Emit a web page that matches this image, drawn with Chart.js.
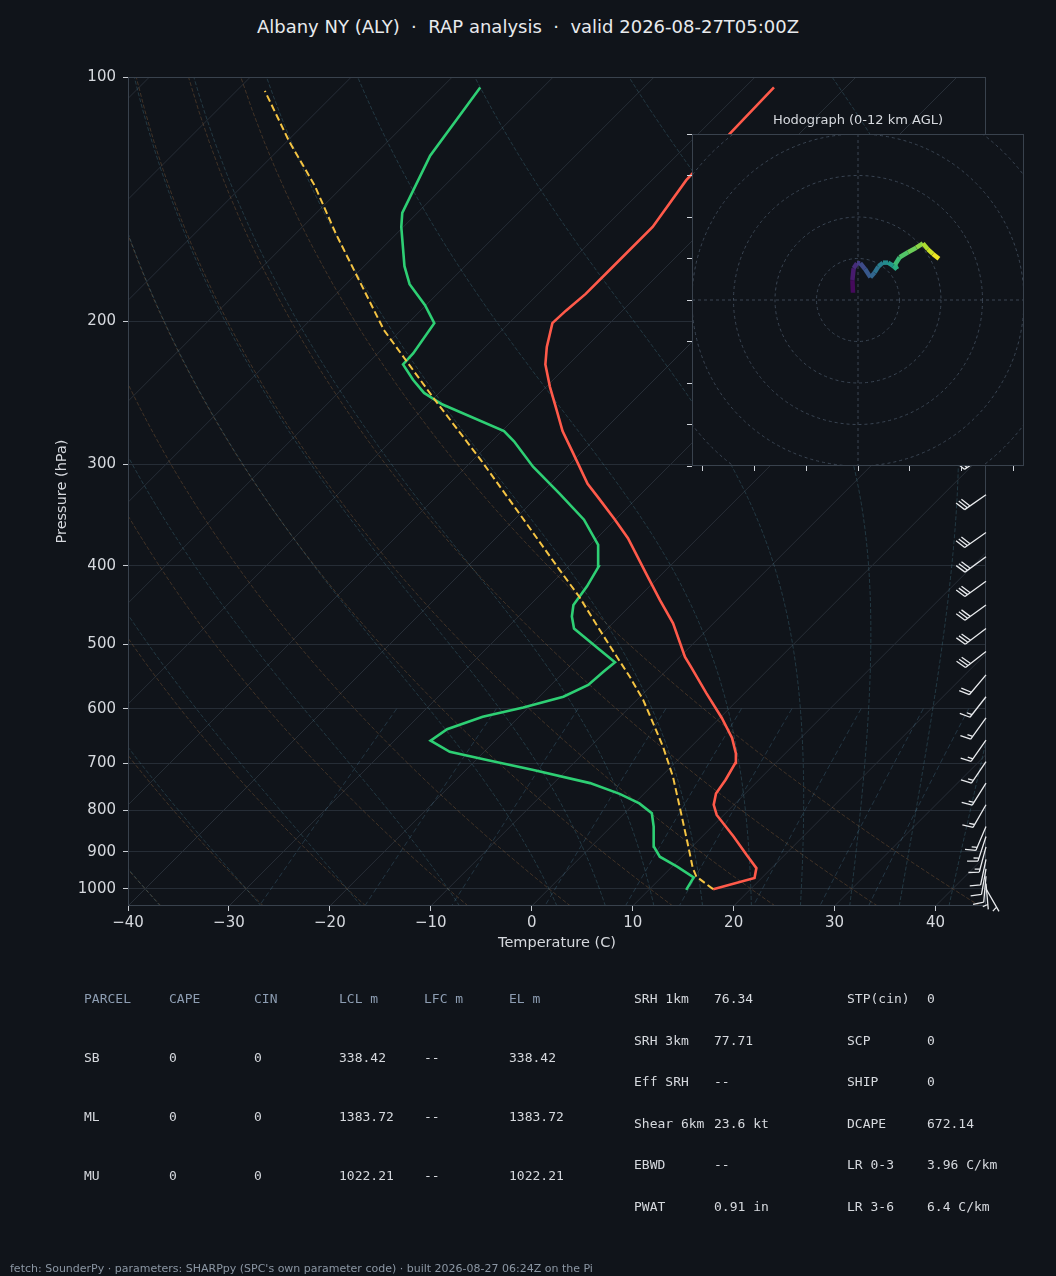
<!DOCTYPE html>
<html><head><meta charset="utf-8">
<script src="https://cdn.jsdelivr.net/npm/chart.js@4.4.1/dist/chart.umd.min.js"></script>
<style>
html,body{margin:0;padding:0;background:#10141a;}
body{width:1056px;height:1276px;position:relative;overflow:hidden;font-family:"DejaVu Sans",sans-serif;}
.abs{position:absolute;white-space:pre;}
#title{left:0;width:1056px;top:16px;text-align:center;font-size:18px;line-height:22px;color:#e8eaed;}
#hodoTitle{left:680px;width:356px;top:112px;text-align:center;font-size:13px;line-height:16px;color:#d6d9de;}
.mono{font-family:"DejaVu Sans Mono",monospace;font-size:13px;line-height:16px;}
#footer{left:10px;top:1262px;font-size:11px;line-height:14px;color:#8b96a3;}
#tables{position:absolute;left:0;top:0;width:1056px;height:1276px;will-change:transform;}
</style></head><body>
<div id="title" class="abs">Albany NY (ALY)  ·  RAP analysis  ·  valid 2026-08-27T05:00Z</div>
<canvas id="skewt" width="1056" height="960" style="position:absolute;left:0;top:0;width:1056px;height:960px;"></canvas>
<div id="hodoTitle" class="abs">Hodograph (0-12 km AGL)</div>
<canvas id="hodo" width="356" height="350" style="position:absolute;left:680px;top:128px;width:356px;height:350px;"></canvas>
<div id="tables"></div>
<div id="footer" class="abs">fetch: SounderPy · parameters: SHARPpy (SPC's own parameter code) · built 2026-08-27 06:24Z on the Pi</div>
<script>
// ---------------- data ----------------
const xTicks = [-40,-30,-20,-10,0,10,20,30,40];
const pTicks = [100,200,300,400,500,600,700,800,900,1000];

const tempPres = [1001,970,943,908,862,811,788,763,734,700,681,652,616,574,532,518,471,441,409,370,350,329,317,291,273,257,241,226,215,201,194,185,173,153,134,117,103];
const tempC = [16.3,19.3,18.5,16.2,13.1,9.3,8.0,7.1,6.7,6.0,5.1,3.2,0.2,-3.8,-8.0,-9.5,-14.0,-17.6,-21.6,-26.9,-30.2,-34.0,-36.3,-40.7,-44.0,-46.7,-49.6,-52.3,-53.9,-55.7,-55.6,-55.3,-55.3,-55.3,-56.6,-56.9,-57.1];

const dewpPres = [1003,968,939,913,887,838,807,785,764,741,714,694,678,657,636,614,598,580,561,540,526,508,478,462,447,424,401,377,351,326,302,281,273,253,245,236,226,219,201,191,180,171,153,147,125,103];
const dewpC = [13.7,13.2,10.5,7.8,6.2,4.2,2.7,0.5,-2.4,-6.4,-13.3,-18.9,-23.4,-26.4,-25.9,-23.6,-20.5,-17.6,-16.3,-16.1,-15.9,-18.6,-23.3,-24.7,-25.7,-26.2,-27.0,-29.2,-33.1,-38.1,-43.4,-47.8,-49.8,-58.6,-61.5,-63.9,-66.4,-66.5,-67.4,-70.1,-73.7,-76.0,-80.2,-81.5,-84.4,-86.2];

const parcelPres = [1001,966,943,870,792,728,668,625,585,548,513,480,437,405,345,296,248,205,156,136,120,104];
const parcelC = [16.3,13.4,12.2,8.8,4.8,1.2,-2.8,-6.1,-9.4,-13.0,-16.8,-20.6,-25.9,-30.5,-40.1,-49.3,-60.2,-71.7,-86.0,-92.9,-99.8,-107.2];

const windPres = [1000,985,965,945,920,888,862,838,788,741,697,656,616,580,545,510,478,447,418,390,364,327,292,260,230,200,175,150,125];
const windDir  = [150,175,185,190,192,195,198,203,210,212,214,215,216,218,220,232,233,234,234,234,235,235,236,238,240,242,245,245,250];
const windKt   = [5,5,10,10,10,15,15,15,15,15,15,15,15,15,20,30,30,30,30,30,30,30,35,35,40,40,40,40,40];

const hodoU = [-2.4,-2.7,-2.1,-0.5,1.1,3.4,6.0,8.0,9.8,12.0,14.5,16.9,18.8,17.8,20.1,24.1,28.1,31.3,33.7,36.1,39.0];
const hodoV = [3.5,9.6,15.3,17.7,17.7,14.9,10.9,13.2,16.1,18.0,18.0,16.5,14.8,16.9,20.6,23.0,25.2,27.3,24.4,22.2,19.9];
const hodoXTicks = [-75,-50,-25,0,25,50,75];
const hodoYTicks = [-80,-60,-40,-20,0,20,40,60,80];
const hodoRings = [20,40,60,80,100];

const parcelHeader = ['PARCEL','CAPE','CIN','LCL m','LFC m','EL m'];
const parcelRows = [
  ['SB','0','0','338.42','--','338.42'],
  ['ML','0','0','1383.72','--','1383.72'],
  ['MU','0','0','1022.21','--','1022.21']
];
const paramLabelsA = ['SRH 1km','SRH 3km','Eff SRH','Shear 6km','EBWD','PWAT'];
const paramValuesA = ['76.34','77.71','--','23.6 kt','--','0.91 in'];
const paramLabelsB = ['STP(cin)','SCP','SHIP','DCAPE','LR 0-3','LR 3-6'];
const paramValuesB = ['0','0','0','672.14','3.96 C/km','6.4 C/km'];

// reference line families (MetPy defaults)
const isothermT = []; for (let t = -120; t <= 40; t += 10) isothermT.push(t);
const dryT0 = [-40,-30,-20,-10,0,10,20,30,40];
const moistT0 = [-40,-30,-20,-10,0,5,10,15,20,25,30,35,40,45];
const mixRatios = [0.0004,0.001,0.002,0.004,0.007,0.01,0.016,0.024,0.032];

// ---------------- helpers ----------------
const P_BOT = 1050, P_TOP = 100, T_MIN = -40, T_MAX = 45;
const AREA_W = 858, AREA_H = 829;
const SKEW = (AREA_H / Math.log(P_BOT / P_TOP)) / (AREA_W / (T_MAX - T_MIN));
function skewX(t, p) { return t + SKEW * Math.log(P_BOT / p); }
function fmtMinus(v) { return v < 0 ? '\u2212' + Math.abs(v) : String(v); }

const EPS = 0.6219569, RD = 287.04749, LV = 2.50084e6, CPD = 1004.666;
function satMix(p, tK) { const es = 6.112 * Math.exp(17.67 * (tK - 273.15) / (tK - 29.65)); return EPS * es / (p - es); }
function dTdp(p, tK) { const rs = satMix(p, tK); return ((RD * tK + LV * rs) / (CPD + LV * LV * rs * EPS / (RD * tK * tK))) / p; }
function integrateMoist(t0, pEnd, h) {
  let p = 1000, T = t0 + 273.15; const out = [[p, T - 273.15]];
  while ((h < 0 && p > pEnd) || (h > 0 && p < pEnd)) {
    const k1 = dTdp(p, T), k2 = dTdp(p + h / 2, T + h / 2 * k1), k3 = dTdp(p + h / 2, T + h / 2 * k2), k4 = dTdp(p + h, T + h * k3);
    T += h / 6 * (k1 + 2 * k2 + 2 * k3 + k4); p += h; out.push([p, T - 273.15]);
  }
  return out;
}
function moistProfile(t0) { const up = integrateMoist(t0, P_TOP, -5); const down = integrateMoist(t0, P_BOT, 5); return down.reverse().concat(up.slice(1)); }

const VIR = ['#440154','#482475','#414487','#355f8d','#2a788e','#21918c','#22a884','#44bf70','#7ad151','#bddf26','#fde725'];
function hex2rgb(h) { return [parseInt(h.slice(1,3),16), parseInt(h.slice(3,5),16), parseInt(h.slice(5,7),16)]; }
function viridis(f) {
  f = Math.max(0, Math.min(1, f)); const s = f * 10, i = Math.min(9, Math.floor(s)), t = s - i;
  const a = hex2rgb(VIR[i]), b = hex2rgb(VIR[i + 1]);
  return 'rgb(' + a.map((c, k) => Math.round(c + (b[k] - c) * t)).join(',') + ')';
}

Chart.defaults.font.family = "'DejaVu Sans', sans-serif";
Chart.defaults.color = '#d6d9de';

// ---------------- skew-T ----------------
function pathLine(ctx, xs, ys, pts) {
  ctx.beginPath();
  pts.forEach((q, i) => { const px = xs.getPixelForValue(skewX(q[1], q[0])), py = ys.getPixelForValue(q[0]); if (i) ctx.lineTo(px, py); else ctx.moveTo(px, py); });
  ctx.stroke();
}
const skewRef = {
  id: 'skewRef',
  beforeDatasetsDraw(chart) {
    const { ctx, chartArea: a, scales: { x, y } } = chart;
    ctx.save();
    ctx.beginPath(); ctx.rect(a.left, a.top, a.right - a.left, a.bottom - a.top); ctx.clip();
    ctx.strokeStyle = '#272e37'; ctx.lineWidth = 1; ctx.setLineDash([]);
    isothermT.forEach(t => pathLine(ctx, x, y, [[P_BOT, t], [P_TOP, t]]));
    ctx.strokeStyle = 'rgba(160,112,64,0.38)'; ctx.lineWidth = 0.9; ctx.setLineDash([4, 2]);
    dryT0.forEach(t0 => {
      const pts = []; for (let p = P_BOT; p >= P_TOP - 0.01; p -= 10) pts.push([p, (t0 + 273.15) * Math.pow(p / 1000, RD / CPD) - 273.15]);
      pathLine(ctx, x, y, pts);
    });
    ctx.strokeStyle = 'rgba(78,140,160,0.34)'; ctx.setLineDash([4, 2]);
    moistT0.forEach(t0 => pathLine(ctx, x, y, moistProfile(t0)));
    ctx.strokeStyle = 'rgba(78,130,160,0.34)'; ctx.setLineDash([5, 3]);
    mixRatios.forEach(w => {
      const pts = []; for (let p = 600; p <= P_BOT + 0.01; p += 50) { const e = p * w / (EPS + w); const l = Math.log(e / 6.112); pts.push([p, 243.5 * l / (17.67 - l)]); }
      pathLine(ctx, x, y, pts);
    });
    ctx.restore();
  },
  afterDatasetsDraw(chart) {
    const { ctx, chartArea: a, scales: { y } } = chart;
    ctx.save();
    ctx.strokeStyle = '#39424d'; ctx.lineWidth = 1; ctx.setLineDash([]);
    ctx.strokeRect(a.left + 0.5, a.top + 0.5, a.right - a.left - 1, a.bottom - a.top - 1);
    const L = 26;
    ctx.strokeStyle = '#e8eaed'; ctx.lineWidth = 1.3; ctx.lineCap = 'butt';
    windPres.forEach((p, i) => {
      const bx = a.right, by = y.getPixelForValue(p);
      const ang = windDir[i] * Math.PI / 180;
      const sx = Math.sin(ang), sy = -Math.cos(ang);
      const rx = Math.cos(ang), ry = Math.sin(ang);
      let spd = Math.round(windKt[i] / 5) * 5;
      const nflag = Math.floor(spd / 50); spd -= nflag * 50;
      const nfull = Math.floor(spd / 10); const half = (spd % 10) >= 5;
      ctx.beginPath();
      ctx.moveTo(bx, by); ctx.lineTo(bx + sx * L, by + sy * L);
      let off = L; const H = 0.4 * L, SP = 0.125 * L;
      for (let k = 0; k < nflag; k++) {
        ctx.moveTo(bx + sx * off, by + sy * off);
        ctx.lineTo(bx + sx * (off - 0.125 * L) + rx * H, by + sy * (off - 0.125 * L) + ry * H);
        ctx.lineTo(bx + sx * (off - 0.25 * L), by + sy * (off - 0.25 * L));
        off -= 0.25 * L + SP;
      }
      for (let k = 0; k < nfull; k++) {
        ctx.moveTo(bx + sx * off, by + sy * off);
        ctx.lineTo(bx + sx * (off + SP) + rx * H, by + sy * (off + SP) + ry * H);
        off -= SP;
      }
      if (half) {
        if (off === L) off -= 1.5 * SP;
        ctx.moveTo(bx + sx * off, by + sy * off);
        ctx.lineTo(bx + sx * (off + SP / 2) + rx * H / 2, by + sy * (off + SP / 2) + ry * H / 2);
      }
      ctx.stroke();
    });
    ctx.restore();
  }
};

function profile(pres, vals) { return pres.map((p, i) => ({ x: skewX(vals[i], p), y: p })); }

new Chart(document.getElementById('skewt'), {
  type: 'scatter',
  data: { datasets: [
    { label: 'Parcel', data: profile(parcelPres, parcelC), showLine: true, borderColor: '#f5c443', borderWidth: 2, borderDash: [7, 3.5], pointRadius: 0, fill: false },
    { label: 'Dewpoint', data: profile(dewpPres, dewpC), showLine: true, borderColor: '#2ecf74', borderWidth: 2.6, pointRadius: 0, fill: false },
    { label: 'Temperature', data: profile(tempPres, tempC), showLine: true, borderColor: '#ff5a4a', borderWidth: 2.6, pointRadius: 0, fill: false }
  ]},
  options: {
    responsive: false, animation: false, devicePixelRatio: 1,
    layout: { padding: { left: 0, top: 77, right: 70, bottom: 0 } },
    plugins: { legend: { display: false }, tooltip: { enabled: false } },
    scales: {
      x: {
        type: 'linear', min: T_MIN, max: T_MAX,
        afterBuildTicks: s => { s.ticks = xTicks.map(v => ({ value: v })); },
        afterFit: s => { s.height = 54; },
        grid: { drawOnChartArea: false, drawTicks: true, tickLength: 5, tickColor: '#c9cdd3', tickWidth: 1 },
        border: { display: false },
        ticks: { color: '#d6d9de', font: { size: 15 }, padding: 3, maxRotation: 0, autoSkip: false, callback: v => fmtMinus(v) },
        title: { display: true, text: 'Temperature (C)', color: '#d6d9de', font: { size: 14.5 }, padding: { top: 0, bottom: 8 } }
      },
      y: {
        type: 'logarithmic', min: P_TOP, max: P_BOT, reverse: true,
        afterBuildTicks: s => { s.ticks = pTicks.map(v => ({ value: v })); },
        afterFit: s => { s.width = 128; },
        grid: { color: '#262d36', lineWidth: 1, drawTicks: true, tickLength: 5, tickColor: '#c9cdd3', tickWidth: 1 },
        border: { display: false },
        ticks: { color: '#d6d9de', font: { size: 15 }, padding: 7, autoSkip: false, callback: v => String(v) },
        title: { display: true, text: 'Pressure (hPa)', color: '#d6d9de', font: { size: 14.5 }, padding: { top: 54, bottom: 0 } }
      }
    }
  },
  plugins: [skewRef]
});

// ---------------- hodograph ----------------
const hodoDeco = {
  id: 'hodoDeco',
  beforeDraw(chart) {
    const { ctx, chartArea: a } = chart;
    ctx.save(); ctx.fillStyle = '#10141a'; ctx.fillRect(a.left, a.top, a.right - a.left, a.bottom - a.top); ctx.restore();
  },
  beforeDatasetsDraw(chart) {
    const { ctx, chartArea: a, scales: { x, y } } = chart;
    ctx.save();
    ctx.beginPath(); ctx.rect(a.left, a.top, a.right - a.left, a.bottom - a.top); ctx.clip();
    ctx.strokeStyle = '#3a4553'; ctx.lineWidth = 1; ctx.setLineDash([3, 3]);
    const cx = x.getPixelForValue(0), cy = y.getPixelForValue(0);
    hodoRings.forEach(r => { const rp = x.getPixelForValue(r) - cx; ctx.beginPath(); ctx.arc(cx, cy, rp, 0, Math.PI * 2); ctx.stroke(); });
    ctx.beginPath(); ctx.moveTo(a.left, cy); ctx.lineTo(a.right, cy); ctx.moveTo(cx, a.top); ctx.lineTo(cx, a.bottom); ctx.stroke();
    ctx.restore();
  },
  afterDatasetsDraw(chart) {
    const { ctx, chartArea: a } = chart;
    ctx.save(); ctx.strokeStyle = '#39424d'; ctx.lineWidth = 1;
    ctx.strokeRect(a.left + 0.5, a.top + 0.5, a.right - a.left - 1, a.bottom - a.top - 1); ctx.restore();
  }
};
const nH = hodoU.length;
new Chart(document.getElementById('hodo'), {
  type: 'scatter',
  data: { datasets: [{
    data: hodoU.map((u, i) => ({ x: u, y: hodoV[i] })), showLine: true, pointRadius: 0, borderWidth: 4.5,
    borderColor: viridis(0.5), borderJoinStyle: 'round', borderCapStyle: 'butt',
    segment: { borderColor: c => viridis((c.p0DataIndex + 0.5) / (nH - 1)) }
  }]},
  options: {
    responsive: false, animation: false, devicePixelRatio: 1,
    layout: { padding: { left: 0, top: 6, right: 12, bottom: 0 } },
    plugins: { legend: { display: false }, tooltip: { enabled: false } },
    scales: {
      x: { type: 'linear', min: -80, max: 80,
        afterBuildTicks: s => { s.ticks = hodoXTicks.map(v => ({ value: v })); },
        afterFit: s => { s.height = 12; },
        grid: { drawOnChartArea: false, drawTicks: true, tickLength: 5, tickColor: '#d0d4da' },
        border: { display: false }, ticks: { display: false } },
      y: { type: 'linear', min: -80, max: 80,
        afterBuildTicks: s => { s.ticks = hodoYTicks.map(v => ({ value: v })); },
        afterFit: s => { s.width = 12; },
        grid: { drawOnChartArea: false, drawTicks: true, tickLength: 5, tickColor: '#d0d4da' },
        border: { display: false }, ticks: { display: false } }
    }
  },
  plugins: [hodoDeco]
});

// ---------------- tables ----------------
const tables = document.getElementById('tables');
function put(text, x, yc, color) {
  const d = document.createElement('div'); d.className = 'abs mono'; d.textContent = text;
  d.style.left = x + 'px'; d.style.top = (yc - 8) + 'px'; d.style.color = color; tables.appendChild(d);
}
const colX = [84,169,254,339,424,509];
const rowY = [999,1058,1117,1176];
parcelHeader.forEach((h, j) => put(h, colX[j], rowY[0], '#8d9db2'));
parcelRows.forEach((r, i) => r.forEach((v, j) => put(v, colX[j], rowY[i + 1], '#d6d9de')));
paramLabelsA.forEach((l, i) => { const yc = 999 + i * 41.6; put(l, 634, yc, '#d6d9de'); put(paramValuesA[i], 714, yc, '#d6d9de'); });
paramLabelsB.forEach((l, i) => { const yc = 999 + i * 41.6; put(l, 847, yc, '#d6d9de'); put(paramValuesB[i], 927, yc, '#d6d9de'); });
</script>
</body></html>
